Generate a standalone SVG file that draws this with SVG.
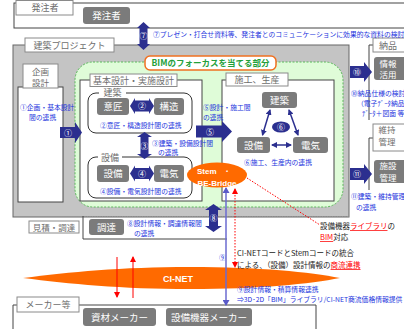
<svg xmlns="http://www.w3.org/2000/svg" width="404" height="329" viewBox="0 0 404 329">
<defs>
<style>
text{font-family:"Noto Sans CJK JP","Liberation Sans",sans-serif;}
.tab{fill:#fff;stroke:#8a8a8a;stroke-width:1}
.tabt{fill:#6e6e6e;font-size:9px;text-anchor:middle}
.tab2{fill:#6e6e6e;font-size:8.5px;text-anchor:middle}
.btn{fill:#7b7b7b}
.btnt{fill:#fff;font-size:9.5px;text-anchor:middle}
.btn2{fill:#fff;font-size:8.5px;text-anchor:middle}
.blue{fill:#2233dd;font-size:6.8px}
.note{fill:#222;font-size:7.5px}
.ul{fill:#ff0000;text-decoration:underline}
.box{fill:#fff;stroke:#444;stroke-width:1}
.ln{fill:none;stroke:#444;stroke-width:1}
.grp{fill:#fff;stroke:#333;stroke-width:1}
.arr{fill:#2b2f8f}
.arrt{fill:#fff;font-size:8px;text-anchor:middle}
.lnk{stroke:#2b2f8f;stroke-width:1.5;fill:none;marker-start:url(#mb);marker-end:url(#mb)}
.lat{font-family:"Liberation Sans",Arial,sans-serif;font-weight:bold;fill:#fff}
</style>
<marker id="mb" markerUnits="userSpaceOnUse" markerWidth="6" markerHeight="6" refX="5" refY="3" orient="auto-start-reverse"><path d="M0,0 L6,3 L0,6 z" fill="#2b2f8f"/></marker>
<marker id="mp" markerUnits="userSpaceOnUse" markerWidth="6" markerHeight="7" refX="5" refY="3.5" orient="auto-start-reverse"><path d="M0,0 L6,3.5 L0,7 z" fill="#5a5ac8"/></marker>
<marker id="mr" markerUnits="userSpaceOnUse" markerWidth="6" markerHeight="6" refX="5" refY="3" orient="auto-start-reverse"><path d="M0,0 L6,3 L0,6 z" fill="#ff0000"/></marker>
</defs>
<rect width="404" height="329" fill="#fff"/>

<g id="client">
<rect x="14" y="3" width="400" height="25" class="box"/>
<rect x="16" y="0.5" width="57" height="14.5" class="tab"/>
<text x="45" y="11" class="tabt">発注者</text>
<rect x="83" y="7" width="47" height="17" rx="3" class="btn"/>
<text x="106.5" y="19" class="btnt">発注者</text>
</g>

<g id="project">
<rect x="13" y="45" width="336" height="172" fill="#c4c4c4" stroke="#666" stroke-width="1"/>
<line x1="83" y1="216.5" x2="349" y2="216.5" stroke="#888" stroke-dasharray="1.5,1"/>
<rect x="25" y="38" width="89" height="14" class="tab"/>
<text x="69.5" y="48.5" class="tabt">建築プロジェクト</text>
</g>

<g id="planning">
<rect x="18" y="87" width="45" height="115" class="box"/>
<rect x="23" y="64" width="35" height="24" class="tab"/>
<text x="40.5" y="74.5" class="tab2">企画</text>
<text x="40.5" y="85.5" class="tab2">設計</text>
<text x="20" y="109.5" class="blue">①企画・基本設計</text>
<text x="29" y="119.5" class="blue">間の連携</text>
</g>

<g id="focus">
<rect x="75" y="62" width="268" height="145" rx="18" fill="#dffcd8" stroke="#5cb85c" stroke-dasharray="2,1.5"/>
<rect x="145" y="56" width="131" height="14" rx="5" fill="#fff" stroke="#f07020" stroke-width="1.5"/>
<text x="210.5" y="66.3" text-anchor="middle" font-size="8.5" font-weight="bold" fill="#23a03a">BIMのフォーカスを当てる部分</text>
</g>

<g id="design">
<rect x="80" y="80" width="122" height="121" class="box"/>
<rect x="90" y="74" width="87" height="12.5" class="tab"/>
<text x="133.5" y="83.5" class="tabt">基本設計・実施設計</text>
<rect x="88" y="93" width="104" height="40" rx="8" class="grp"/>
<rect x="99" y="88" width="27" height="10" fill="#fff"/>
<text x="112.5" y="96" class="tabt">建築</text>
<rect x="97" y="98" width="32" height="17" rx="3" class="btn"/>
<text x="113" y="110" class="btnt">意匠</text>
<rect x="154" y="98" width="30" height="17" rx="3" class="btn"/>
<text x="169" y="110" class="btnt">構造</text>
<text x="100" y="127.5" class="blue">②意匠・構造設計間の連携</text>
<text x="152" y="145.5" class="blue">③建築・設備設計間</text>
<text x="158" y="155" class="blue">の連携</text>
<rect x="88" y="157" width="104" height="41" rx="8" class="grp"/>
<rect x="98" y="152" width="24" height="10" fill="#fff"/>
<text x="110" y="160.5" class="tabt">設備</text>
<rect x="97" y="165" width="32" height="17" rx="3" class="btn"/>
<text x="113" y="177" class="btnt">設備</text>
<rect x="154" y="165" width="30" height="17" rx="3" class="btn"/>
<text x="169" y="177" class="btnt">電気</text>
<text x="100" y="193.5" class="blue">④設備・電気設計間の連携</text>
</g>

<g id="construction">
<rect x="222" y="80" width="112" height="121" class="box"/>
<rect x="226" y="73" width="62" height="13" class="tab"/>
<text x="257" y="83" class="tabt">施工、生産</text>
<rect x="262" y="92" width="35" height="16" rx="3" class="btn"/>
<text x="279.5" y="103.5" class="btnt">建築</text>
<rect x="237" y="137" width="33" height="16" rx="3" class="btn"/>
<text x="253.5" y="148.5" class="btnt">設備</text>
<rect x="293" y="137" width="35" height="16" rx="3" class="btn"/>
<text x="310.5" y="148.5" class="btnt">電気</text>
<ellipse cx="281" cy="127" rx="9" ry="5.5" class="arr"/>
<text x="281" y="130" class="arrt">⑥</text>
<text x="244" y="164.5" class="blue">⑥施工、生産内の連携</text>
</g>
<text x="203" y="109.5" class="blue">⑤設計・施工間</text>
<text x="203" y="119.5" class="blue">の連携</text>

<g id="delivery">
<path d="M373,45 H369 V120" class="ln"/>
<rect x="373" y="38" width="40" height="14" class="tab"/>
<text x="388" y="48.5" class="tabt">納品</text>
<rect x="374" y="57" width="40" height="23" rx="3" class="btn"/>
<text x="388" y="66.5" class="btn2">情報</text>
<text x="388" y="77.5" class="btn2">活用</text>
<text x="351" y="95.5" class="blue">⑩納品仕様の検討</text>
<text x="357" y="105.5" class="blue">（電子ﾃﾞｰﾀ納品</text>
<text x="362" y="115.5" class="blue">ﾃﾞｰﾀ＋図面 等</text>
</g>

<g id="maintenance">
<path d="M373,138 H369 V190" class="ln"/>
<rect x="373" y="124" width="40" height="27" class="tab"/>
<text x="387" y="133" class="tab2">維持</text>
<text x="387" y="144.5" class="tab2">管理</text>
<rect x="374" y="160" width="40" height="23" rx="3" class="btn"/>
<text x="388" y="169" class="btn2">施設</text>
<text x="388" y="180.5" class="btn2">管理</text>
<text x="351" y="198.5" class="blue">⑪建築・維持管理</text>
<text x="356" y="209.5" class="blue">の連携</text>
</g>

<g id="procurement">
<path d="M83,216 V239 H227" class="ln"/>
<rect x="29" y="221" width="50" height="12" class="tab"/>
<text x="54" y="230.5" class="tab2">見積・調達</text>
<rect x="89" y="219" width="35" height="16" rx="3" class="btn"/>
<text x="106.5" y="230.5" class="btnt">調達</text>
<text x="127" y="225.5" class="blue">⑧設計情報・調達情報間</text>
<text x="134" y="235.5" class="blue">の連携</text>
</g>

<g id="cinet">
<path d="M23,278 C70,272 120,267 190,267 C260,267 310,272 340,278 C310,284 260,289 190,289 C120,289 70,284 23,278 Z" fill="#ff6a00"/>
<text x="178" y="282" text-anchor="middle" font-size="9" class="lat">CI-NET</text>
</g>

<g id="makers">
<path d="M13,329 V305 H316 V329" class="ln"/>
<rect x="17" y="297" width="62" height="15" class="tab"/>
<text x="48" y="308" class="tabt">メーカー等</text>
<rect x="83" y="308" width="73" height="18" rx="3" class="btn"/>
<text x="119.5" y="320.5" class="btnt">資材メーカー</text>
<rect x="166" y="308" width="86" height="18" rx="3" class="btn"/>
<text x="209" y="320.5" class="btnt">設備機器メーカー</text>
</g>

<g id="notes">
<text x="153" y="36.5" class="blue">⑦プレゼン・打合せ資料等、発注者とのコミュニケーションに効果的な資料の検討</text>
<text x="320" y="229" class="note">設備機器<tspan class="ul">ライブラリ</tspan>の</text>
<text x="320" y="240" class="note"><tspan class="ul">BIM</tspan>対応</text>
<text x="237" y="256" class="note">CI-NETコードとStemコードの統合</text>
<text x="237" y="268" class="note">による、（設備）設計情報の<tspan class="ul">商流連携</tspan></text>
<text x="219" y="259.5" class="blue">⑨</text>
<text x="237" y="291.5" class="blue">⑨設計情報・積算情報連携</text>
<text x="237" y="301.5" class="blue">⇒3D･2D「BIM」ライブラリ/CI-NET商流価格情報提供</text>
</g>

<g id="connectors">
<polygon points="143.5,22 150,28 147.5,28 147.5,44 150,44 143.5,50 137,44 139.5,44 139.5,28 137,28" class="arr"/>
<text x="143.5" y="39" class="arrt">⑦</text>
<polygon points="60,127 75,127 75,122 82,132.5 75,143 75,138 60,138" class="arr"/>
<text x="68" y="135.5" class="arrt">①</text>
<polygon points="130,106 135,98 135,100.5 149,100.5 149,98 154,106 149,114 149,111.5 135,111.5 135,114" class="arr"/>
<text x="142" y="109" class="arrt">②</text>
<polygon points="144.5,132 152,137 148.5,137 148.5,154 152,154 144.5,159 137,154 140.5,154 140.5,137 137,137" class="arr"/>
<text x="144.5" y="148.5" class="arrt">③</text>
<polygon points="130,173.5 135,165.5 135,168 149,168 149,165.5 154,173.5 149,181.5 149,179 135,179 135,181.5" class="arr"/>
<text x="142" y="176.5" class="arrt">④</text>
<polygon points="196,125.5 222,125.5 222,121 232,131.5 222,142 222,137.5 196,137.5" class="arr"/>
<text x="210" y="134.5" class="arrt">⑤</text>
<polygon points="350,66 364,66 364,62 372,72 364,82 364,78 350,78" class="arr"/>
<text x="357" y="75" class="arrt">⑩</text>
<polygon points="350,168 364,168 364,164 372,174 364,184 364,180 350,180" class="arr"/>
<text x="357" y="177" class="arrt">⑪</text>
<polygon points="213.5,204 222,210 218,210 218,226 222,226 213.5,232 205,226 209,226 209,210 205,210" class="arr"/>
<text x="213.5" y="221" class="arrt">⑧</text>
<line x1="270" y1="110" x2="262.5" y2="135" class="lnk"/>
<line x1="289" y1="110" x2="298" y2="135" class="lnk"/>
<line x1="272" y1="145" x2="291" y2="145" class="lnk"/>
<line x1="117" y1="257" x2="117" y2="297" stroke="#ff0000" stroke-width="1" marker-end="url(#mr)"/>
<line x1="133" y1="298" x2="133" y2="257" stroke="#ff0000" stroke-width="1" marker-end="url(#mr)"/>
<line x1="226" y1="188" x2="226" y2="305" stroke="#6b6bd0" stroke-width="1.5" marker-start="url(#mp)" marker-end="url(#mp)"/>
<line x1="235" y1="189" x2="235" y2="267" stroke="#ff0000" stroke-width="1" stroke-dasharray="1.5,1.5" marker-start="url(#mr)" marker-end="url(#mr)"/>
<line x1="247" y1="178" x2="320" y2="225" stroke="#ff0000" stroke-width="1" stroke-dasharray="1.5,1.5"/>
</g>

<g id="stem">
<ellipse cx="217" cy="175" rx="30" ry="12.5" fill="#ff6a00"/>
<text x="197" y="174" font-size="8" class="lat">Stem</text>
<text x="223" y="174" font-size="8" class="lat">・</text>
<text x="217" y="186" font-size="8" text-anchor="middle" class="lat">BE-Bridge</text>
</g>
</svg>
